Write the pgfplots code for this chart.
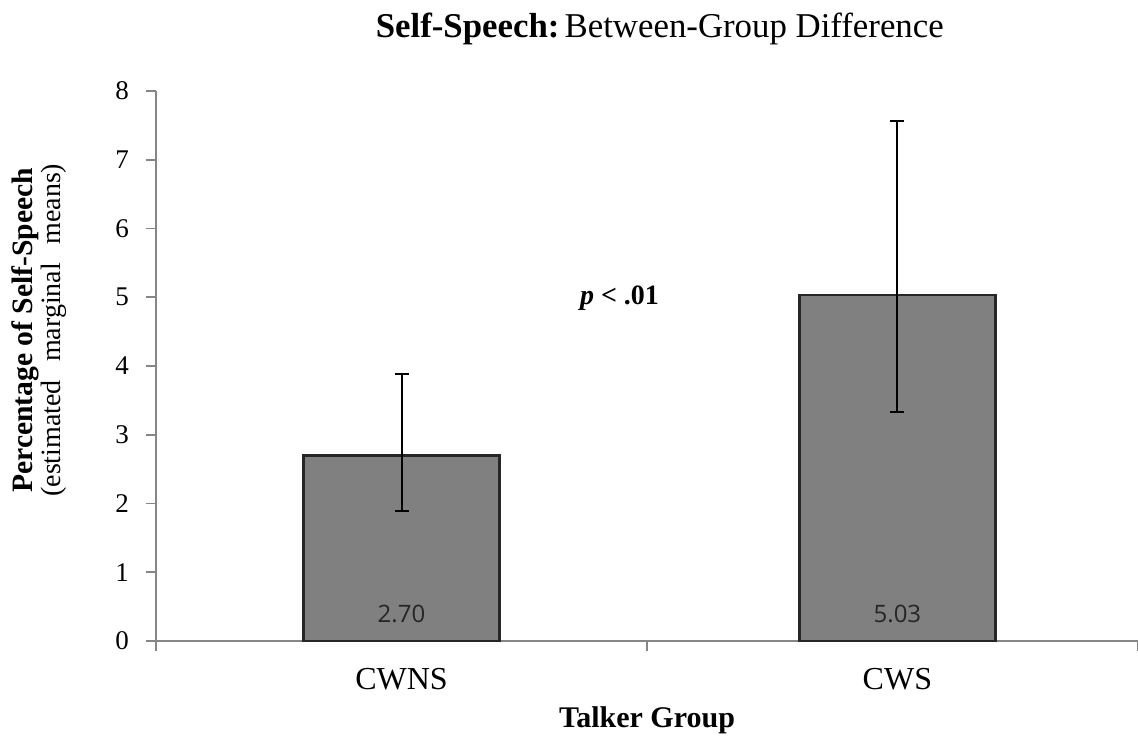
\documentclass[border=0pt]{standalone}
\usepackage{fontspec}
\setmainfont{Liberation Serif}
\newfontfamily\labfont{Open Sans}
\usepackage{pgfplots}
\pgfplotsset{compat=1.18}
\definecolor{axgray}{HTML}{868686}
\definecolor{barfill}{HTML}{808080}
\definecolor{bardraw}{HTML}{262626}
\begin{document}
\begin{tikzpicture}
\useasboundingbox (-78pt,-49pt) rectangle (491pt,320.5pt);
\begin{axis}[
  at={(0,0)}, anchor=origin,
  scale only axis, width=491pt, height=275pt,
  xmin=0, xmax=2, ymin=0, ymax=8,
  axis lines*=left,
  axis line style={axgray, line width=0.8pt},
  every tick/.style={axgray, line width=0.8pt},
  tick align=outside,
  major tick length=5pt,
  xtick={0,1,2}, xticklabels={},
  extra x ticks={0.5,1.51}, extra x tick labels={CWNS,CWS},
  extra x tick style={major tick length=0pt, tick label style={anchor=base, yshift=-24pt, font=\rmfamily\fontsize{16}{16}\selectfont}},
  ytick={0,1,...,8},
  yticklabel style={font=\rmfamily\fontsize{13.5}{13.5}\selectfont, xshift=-5pt},
  /pgf/number format/assume math mode=true,
  xlabel={\textbf{Talker Group}},
  xlabel style={at={(axis description cs:0.5,-0.1436)}, anchor=center, font=\rmfamily\fontsize{15}{15}\selectfont},
  ylabel={\rmfamily\fontsize{14.8}{14}\selectfont\textbf{Percentage of Self-Speech}\\\rmfamily\fontsize{14}{14}\selectfont(estimated\hspace{0.65em}marginal\hspace{0.65em}means)},
  ylabel style={at={(axis description cs:-0.119,0.565)}, anchor=center, align=center},
  title={\textbf{Self-Speech:}\hspace{0.15em}Between-Group Difference},
  title style={at={(axis description cs:0.513,1.0909)}, anchor=center, yshift=0pt, font=\rmfamily\fontsize{17.4}{17.4}\selectfont},
  clip=false,
]
\addplot[ybar, bar width=98pt, fill=barfill, draw=bardraw, line width=1.2pt,
  error bars/.cd, y dir=both, y explicit,
  error bar style={black, line width=1pt},
  error mark options={black, rotate=90, mark size=3.5pt, line width=1pt}]
  coordinates {(0.5,2.70) += (0,1.18) -= (0,0.81)
               (1.51,5.03) += (0,2.53) -= (0,1.70)};
\addplot[draw=none, mark=none, nodes near coords, point meta=explicit symbolic,
  nodes near coords style={anchor=center, font=\labfont\fontsize{12}{12}\selectfont, text=black!85}]
  coordinates {(0.5,0.39) [2.70] (1.51,0.39) [5.03]};
\addplot[draw=none, mark=none, nodes near coords, point meta=explicit symbolic,
  nodes near coords style={anchor=center, font=\rmfamily\fontsize{14}{14}\selectfont\bfseries}]
  coordinates {(0.944,4.99) [{\textit{p} < .01}]};
\end{axis}
\end{tikzpicture}
\end{document}
